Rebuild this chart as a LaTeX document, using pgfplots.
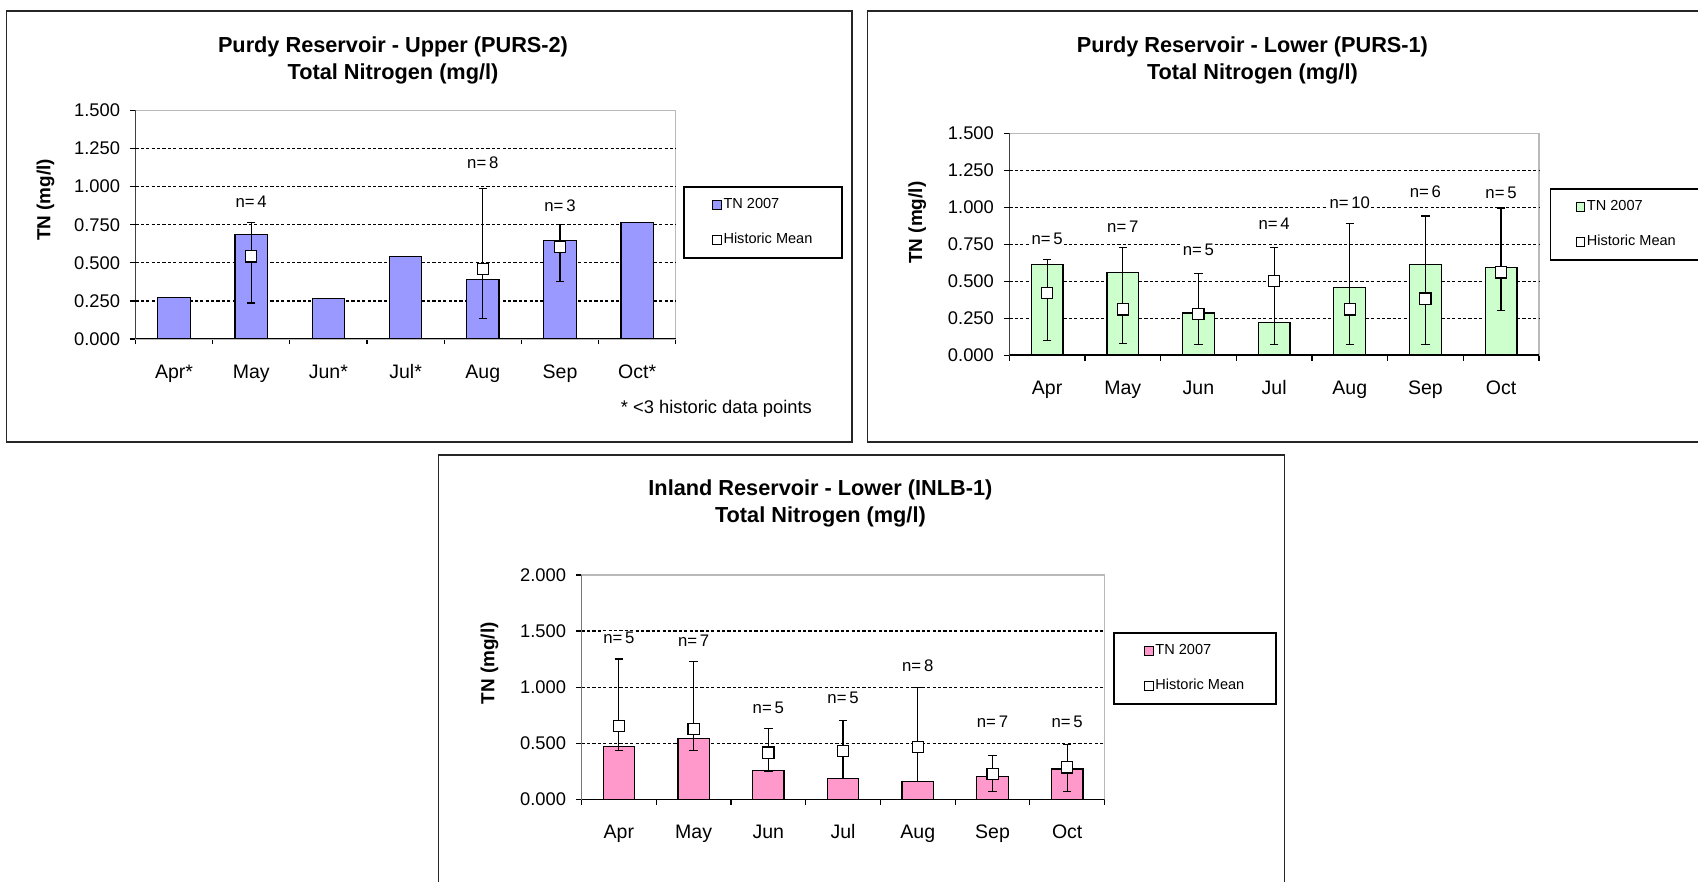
\documentclass[border=0pt]{standalone}
\usepackage{fontspec}
\setmainfont{Liberation Sans}
\usepackage{pgfplots}
\pgfplotsset{compat=1.18}
\usepackage{pgfplotstable}

\definecolor{barblue}{HTML}{9999FF}
\definecolor{bargreen}{HTML}{CCFFCC}
\definecolor{barpink}{HTML}{FF99CC}

% ---------- Panel 1: Purdy Upper (PURS-2)
\pgfplotstableread{
x v
1 0.272
2 0.686
3 0.266
4 0.540
5 0.392
6 0.646
7 0.763
}\barsA
\pgfplotstableread{
x m ep em
2 0.542 0.221 0.306
5 0.458 0.532 0.321
6 0.603 0.149 0.224
}\meanA
\pgfplotstableread{
x y n
2 0.900 4
5 1.155 8
6 0.872 3
}\nA

% ---------- Panel 2: Purdy Lower (PURS-1)
\pgfplotstableread{
x v
1 0.611
2 0.561
3 0.285
4 0.223
5 0.458
6 0.611
7 0.593
}\barsB
\pgfplotstableread{
x m ep em
1 0.422 0.223 0.324
2 0.310 0.415 0.230
3 0.280 0.272 0.209
4 0.502 0.223 0.431
5 0.310 0.579 0.239
6 0.383 0.558 0.312
7 0.559 0.435 0.256
}\meanB
\pgfplotstableread{
x y n
1 0.786 5
2 0.866 7
3 0.713 5
4 0.889 4
5 1.033 10
6 1.106 6
7 1.094 5
}\nB

% ---------- Panel 3: Inland Lower (INLB-1)
\pgfplotstableread{
x v
1 0.472
2 0.540
3 0.257
4 0.188
5 0.161
6 0.203
7 0.269
}\barsC
\pgfplotstableread{
x m ep em
1 0.654 0.597 0.221
2 0.627 0.600 0.194
3 0.415 0.218 0.164
4 0.430 0.269 0.245
5 0.463 0.537 0.302
6 0.227 0.164 0.158
7 0.284 0.203 0.215
}\meanC
\pgfplotstableread{
x y n
1 1.439 5
2 1.415 7
3 0.818 5
4 0.901 5
5 1.194 8
6 0.687 7
7 0.687 5
}\nC

\pgfplotsset{
  tnaxis/.style={
    scale only axis, anchor=south west,
    xmin=0.5, xmax=7.5,
    xtick={1,...,7},
    minor xtick={0.5,1.5,...,7.5},
    tick pos=left,
    tick align=outside,
    major tick length=2.7bp,
    minor tick length=2.7bp,
    major x tick style={draw=none},
    minor x tick style={draw=black, line width=0.6bp},
    y tick style={draw=black, line width=0.6bp},
    axis line style={draw=gray!55, line width=0.6bp},
    x tick label style={font=\fontsize{9.8}{11}\selectfont, yshift=-6.2bp,
      text height=7.2bp, text depth=2bp},
    y tick label style={font=\fontsize{9.2}{10}\selectfont, xshift=-1.5bp,
      /pgf/number format/fixed, /pgf/number format/fixed zerofill,
      /pgf/number format/precision=3},
    /pgf/number format/assume math mode=true,
    extra y tick labels={},
    extra y tick style={grid=major, major tick length=0pt},
    major grid style={draw=black, line width=0.6bp, dash pattern=on 1.6bp off 1.1bp},
    ylabel={TN (mg/l)},
    ylabel style={font=\bfseries\fontsize{9.5}{10}\selectfont, anchor=center},
    legend cell align=left,
    legend style={anchor=north west, draw=black, line width=0.8bp,
      font=\fontsize{7.3}{8}\selectfont, inner xsep=14bp, inner ysep=5bp,
      row sep=9bp, nodes={inner sep=0.8bp}},
  },
  barstyle/.style={ybar, bar width=0.42, draw=black, line width=0.6bp, fill=#1,
    legend image code/.code={\draw[fill=#1, draw=black, line width=0.5bp] (0bp,-2.2bp) rectangle (4.4bp,2.2bp);}},
  meanstyle/.style={only marks, mark=square*, mark size=2.8bp,
    mark options={fill=white, draw=black, line width=0.6bp},
    legend image code/.code={\draw[fill=white, draw=black, line width=0.5bp] (0bp,-2.2bp) rectangle (4.4bp,2.2bp);},
    error bars/.cd, y dir=both, y explicit,
    error bar style={draw=black, line width=0.6bp},
    error mark=-,
    error mark options={rotate=90, draw=black, mark size=2.1bp, line width=0.6bp}},
  nstyle/.style={forget plot, draw=none, mark=none,
    point meta=explicit symbolic,
    nodes near coords={n=\,\pgfplotspointmeta},
    nodes near coords style={anchor=center, fill=white, inner sep=0.6bp,
      font=\fontsize{8.4}{9}\selectfont}},
}

\begin{document}
\begin{tikzpicture}
\useasboundingbox (0,0) rectangle (849bp,441bp);

% frames
\draw[line width=0.8bp, black!85] (3.25bp,220bp) rectangle (426bp,435.5bp);
\draw[line width=0.8bp, black!85] (433.7bp,220bp) rectangle (855bp,435.5bp);
\draw[line width=0.8bp, black!85] (219.3bp,-5bp) rectangle (642.2bp,213.6bp);

% ---------- Panel 1
\begin{axis}[tnaxis,
  at={(67.7bp,271.5bp)}, width=270.2bp, height=114.25bp,
  ymin=0, ymax=1.5, ytick={0,0.25,...,1.5},
  extra y ticks={0.25,0.5,0.75,1.0,1.25},
  xticklabels={Apr*,May,Jun*,Jul*,Aug,Sep,Oct*},
  ylabel style={at={(axis description cs:-0.1665,0.609)}},
  legend style={at={(axis description cs:1.0139,0.668)}},
]
\addplot[barstyle=barblue] table[x=x,y=v] {\barsA};
\addlegendentry{TN 2007}
\addplot[meanstyle] table[x=x,y=m,y error plus=ep,y error minus=em] {\meanA};
\addlegendentry{Historic Mean}
\addplot[nstyle] table[x=x,y=y,meta=n] {\nA};
\draw[black, line width=0.7bp] (rel axis cs:0,1) -- (rel axis cs:0,0) -- (rel axis cs:1,0);
\end{axis}

% ---------- Panel 2
\begin{axis}[tnaxis,
  at={(504.65bp,263.4bp)}, width=264.8bp, height=111bp,
  ymin=0, ymax=1.5, ytick={0,0.25,...,1.5},
  extra y ticks={0.25,0.5,0.75,1.0,1.25},
  xticklabels={Apr,May,Jun,Jul,Aug,Sep,Oct},
  ylabel style={at={(axis description cs:-0.1737,0.597)}},
  legend style={at={(axis description cs:1.0204,0.7514)}, inner xsep=12.5bp},
]
\addplot[barstyle=bargreen] table[x=x,y=v] {\barsB};
\addlegendentry{TN 2007}
\addplot[meanstyle] table[x=x,y=m,y error plus=ep,y error minus=em] {\meanB};
\addlegendentry{Historic Mean}
\addplot[nstyle] table[x=x,y=y,meta=n] {\nB};
\draw[black, line width=0.7bp] (rel axis cs:0,1) -- (rel axis cs:0,0) -- (rel axis cs:1,0);
\end{axis}

% ---------- Panel 3
\begin{axis}[tnaxis,
  at={(290.75bp,41.4bp)}, width=261.55bp, height=112.1bp,
  ymin=0, ymax=2, ytick={0,0.5,...,2},
  extra y ticks={0.5,1.0,1.5},
  xticklabels={Apr,May,Jun,Jul,Aug,Sep,Oct},
  ylabel style={at={(axis description cs:-0.1759,0.606)}},
  legend style={at={(axis description cs:1.0165,0.744)}, inner xsep=15bp},
]
\addplot[barstyle=barpink] table[x=x,y=v] {\barsC};
\addlegendentry{TN 2007}
\addplot[meanstyle] table[x=x,y=m,y error plus=ep,y error minus=em] {\meanC};
\addlegendentry{Historic Mean}
\addplot[nstyle] table[x=x,y=y,meta=n] {\nC};
\draw[black, line width=0.7bp] (rel axis cs:0,1) -- (rel axis cs:0,0) -- (rel axis cs:1,0);
\end{axis}

% titles
\node[align=center, font=\bfseries\fontsize{10.9}{13.5}\selectfont] at (196.5bp,411bp)
  {Purdy Reservoir - Upper (PURS-2)\\Total Nitrogen (mg/l)};
\node[align=center, font=\bfseries\fontsize{10.9}{13.5}\selectfont] at (626.2bp,411bp)
  {Purdy Reservoir - Lower (PURS-1)\\Total Nitrogen (mg/l)};
\node[align=center, font=\bfseries\fontsize{10.9}{13.5}\selectfont] at (410.2bp,189.3bp)
  {Inland Reservoir - Lower (INLB-1)\\Total Nitrogen (mg/l)};
% footnote
\node[font=\fontsize{9.2}{10}\selectfont] at (358.2bp,236.4bp) {* <3 historic data points};
\end{tikzpicture}
\end{document}
